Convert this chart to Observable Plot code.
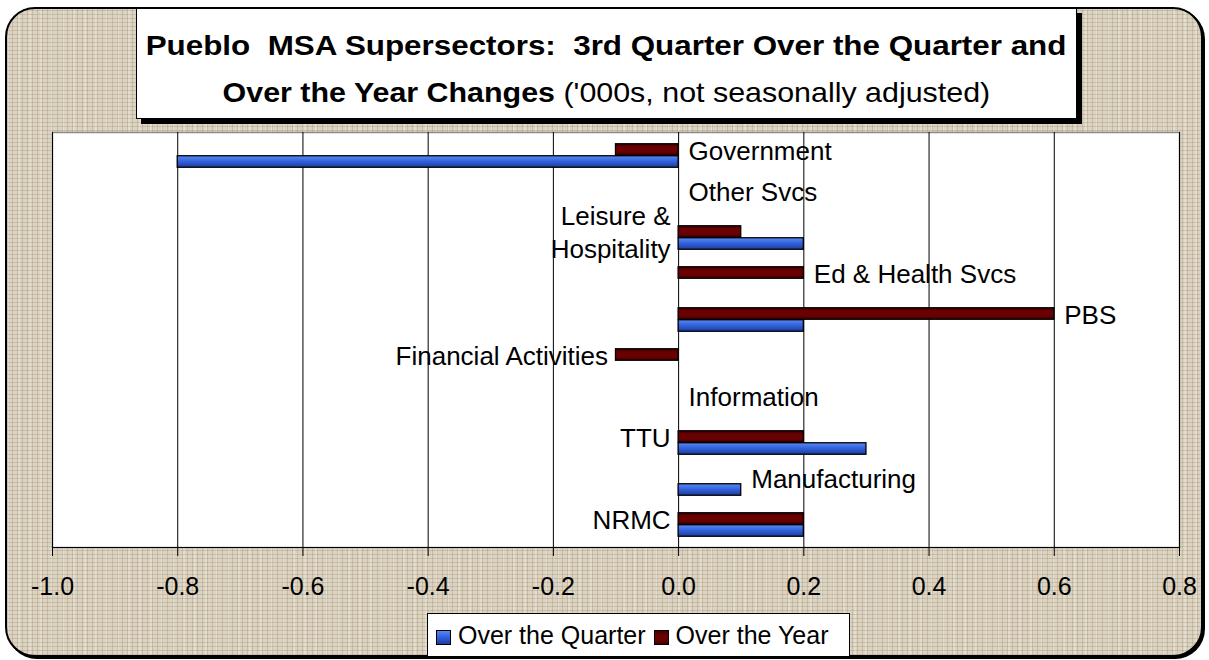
<!DOCTYPE html>
<html>
<head>
<meta charset="utf-8">
<script src="https://cdn.jsdelivr.net/npm/d3@7"></script>
<script src="https://cdn.jsdelivr.net/npm/@observablehq/plot@0.6"></script>
<style>
  html, body { margin: 0; padding: 0; background: #ffffff; }
  #page { position: relative; width: 1209px; height: 660px; overflow: hidden; font-family: "Liberation Sans", Arial, sans-serif; }
  #frame {
    position: absolute; left: 5px; top: 7px; width: 1194px; height: 646px;
    border: 2px solid #000; border-radius: 30px;
    box-shadow: 2px 2px 0 #000;
    background-color: #dcd3c1;
    background-image:
      repeating-linear-gradient(0deg, rgba(135,120,95,0.25) 0 1px, transparent 1px 4px),
      repeating-linear-gradient(90deg, rgba(135,120,95,0.25) 0 1px, transparent 1px 5px),
      repeating-linear-gradient(90deg, rgba(255,255,255,0.25) 0 2px, transparent 2px 11px);
  }
  #chart { position: absolute; left: 0; top: 0; }
  #title {
    position: absolute; left: 136px; top: 8px; width: 941px; height: 111px;
    background: #fff; border: 1px solid #000; box-shadow: 5px 5px 0 #000;
    color: #000; box-sizing: border-box;
  }
  .tline {
    position: absolute; left: 0; width: 100%; text-align: center;
    font-size: 28px; line-height: 28px; white-space: nowrap;
  }
  .tline span { display: inline-block; transform: scaleX(1.12); transform-origin: 50% 50%; }
  .tline.second span { transform: scaleX(1.086); }
  #legend {
    position: absolute; left: 427px; top: 613px; width: 423px; height: 44px;
    background: #fff; border: 1px solid #000;
    font-size: 25px; line-height: 42px; color: #000; white-space: nowrap;
    padding-left: 8px; box-sizing: border-box;
  }
</style>
</head>
<body>
<svg width="0" height="0" style="position:absolute">
  <defs>
    <linearGradient id="gBlue" x1="0" y1="0" x2="0" y2="1">
      <stop offset="0" stop-color="#5b8af2"/>
      <stop offset="0.45" stop-color="#3463e0"/>
      <stop offset="1" stop-color="#1c3c9c"/>
    </linearGradient>
    <linearGradient id="gRed" x1="0" y1="0" x2="0" y2="1">
      <stop offset="0" stop-color="#3e0000"/>
      <stop offset="0.3" stop-color="#6a0000"/>
      <stop offset="0.7" stop-color="#6a0000"/>
      <stop offset="1" stop-color="#3e0000"/>
    </linearGradient>
  </defs>
</svg>
<div id="page">
  <div id="frame"></div>
  <div id="chart"></div>
  <div id="title">
    <div class="tline" style="top:23px"><span><b>Pueblo&nbsp; MSA Supersectors:&nbsp; 3rd Quarter Over the Quarter and</b></span></div>
    <div class="tline second" style="top:70px"><span><b>Over the Year Changes</b> ('000s, not seasonally adjusted)</span></div>
  </div>
  <div id="legend"></div>
</div>
<script>
// ---- data ----
const categories = ["Government", "Other Svcs", "Leisure &\nHospitality", "Ed & Health Svcs", "PBS",
                    "Financial Activities", "Information", "TTU", "Manufacturing", "NRMC"];
const overQuarter = [-0.8, 0, 0.2, 0, 0.2, 0, 0, 0.3, 0.1, 0.2];
const overYear    = [-0.1, 0, 0.1, 0.2, 0.6, -0.1, 0, 0.2, 0, 0.2];
const labelSide   = ["right", "right", "left", "right", "right", "left", "right", "left", "right", "left"];
const seriesNames = ["Over the Quarter", "Over the Year"];
const xTicks = [-1.0, -0.8, -0.6, -0.4, -0.2, 0.0, 0.2, 0.4, 0.6, 0.8];

// ---- derived tables ----
const rows = categories.map((c, i) => ({
  category: c, quarter: overQuarter[i], year: overYear[i], side: labelSide[i],
  labelX: labelSide[i] === "right" ? Math.max(0, overQuarter[i], overYear[i]) : Math.min(0, overQuarter[i], overYear[i])
}));
const quarterBars = rows.filter(d => d.quarter !== 0);
const yearBars = rows.filter(d => d.year !== 0);

const W = 1209, H = 610;
const mTop = 132, mBottom = H - 547, mLeft = 52, mRight = W - 1179;
const band = (H - mTop - mBottom) / categories.length;
const barH = 12;
const pad = (band - 2 * barH) / 2;

const chart = Plot.plot({
  width: W, height: H,
  marginTop: mTop, marginBottom: mBottom, marginLeft: mLeft, marginRight: mRight,
  style: { fontFamily: "'Liberation Sans', Arial, sans-serif", fontSize: "26px", background: "transparent", color: "#000", overflow: "visible" },
  x: { domain: [-1, 0.8], axis: null },
  y: { domain: categories, padding: 0, axis: null },
  marks: [
    Plot.frame({ fill: "white", stroke: "#8c8c8c", strokeWidth: 1.5 }),
    Plot.text(rows.filter(d => d.side === "right"), {
      x: "labelX", y: "category", text: "category", textAnchor: "start", dx: 10, dy: -7,
      fontSize: 26, fill: "#000", lineHeight: 1.27
    }),
    Plot.text(rows.filter(d => d.side === "left"), {
      x: "labelX", y: "category", text: "category", textAnchor: "end", dx: -8, dy: -7,
      fontSize: 26, fill: "#000", lineHeight: 1.27
    }),
    Plot.gridX(xTicks, { stroke: "#000", strokeOpacity: 1, strokeWidth: 1 }),
    Plot.frame({ anchor: "bottom", stroke: "#000", strokeWidth: 1.2 }),
    Plot.barX(yearBars, {
      x1: 0, x2: "year", y: "category",
      insetTop: pad, insetBottom: pad + barH,
      fill: "url(#gRed)", stroke: "#000", strokeWidth: 1.3
    }),
    Plot.barX(quarterBars, {
      x1: 0, x2: "quarter", y: "category",
      insetTop: pad + barH, insetBottom: pad,
      fill: "url(#gBlue)", stroke: "#000", strokeWidth: 1.3
    }),
    Plot.axisX(xTicks, {
      anchor: "bottom", tickSize: 9, tickPadding: 21, fontSize: 25,
      tickFormat: d => d.toFixed(1), stroke: "#000", fill: "#000"
    })
  ]
});
document.getElementById("chart").appendChild(chart);

// ---- legend ----
const legendFills = ["url(#gBlue)", "url(#gRed)"];
const legend = document.getElementById("legend");
seriesNames.forEach((name, i) => {
  const item = document.createElement("span");
  item.style.marginRight = "8px";
  item.innerHTML = `<svg width="15" height="15" style="vertical-align:-1px;margin-right:7px"><rect x="0.5" y="0.5" width="14" height="14" fill="${legendFills[i]}" stroke="#000"/></svg>${name}`;
  legend.appendChild(item);
});
</script>
</body>
</html>
